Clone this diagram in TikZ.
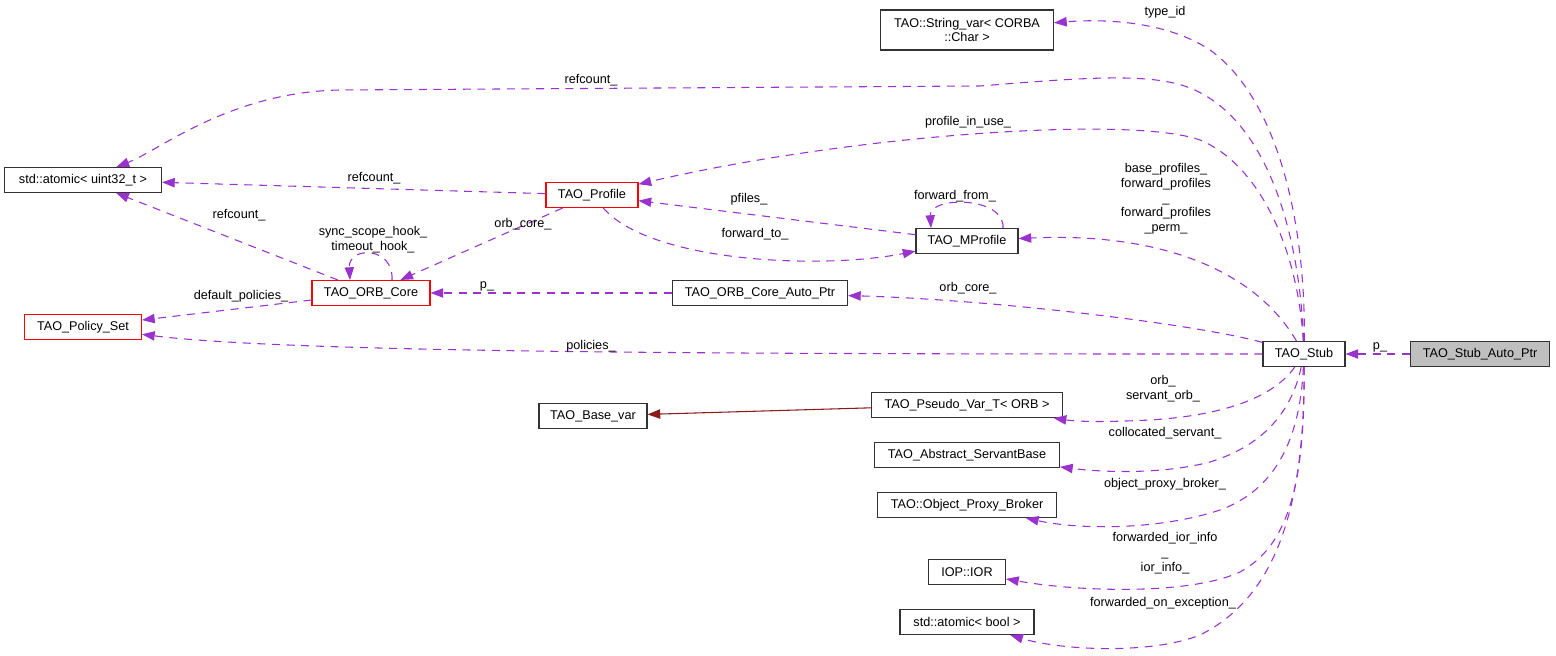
\documentclass[tikz,border=0pt]{standalone}
\usepackage{fontspec}
\setmainfont{Liberation Sans}
\usetikzlibrary{arrows.meta}

\definecolor{edgepurple}{HTML}{9A32CD}
\definecolor{inhred}{HTML}{8B1A1A}
\definecolor{nodegray}{HTML}{BFBFBF}

\begin{document}
\begin{tikzpicture}[x=0.75pt,y=-0.75pt,
    font=\fontsize{9.5}{11}\selectfont,
    cls/.style={draw=black!80,fill=white,line width=0.8pt,minimum height=18.75pt,inner sep=1pt},
    trunc/.style={cls,draw=red},
    focus/.style={cls,fill=nodegray},
    usage/.style={edgepurple,line width=0.8pt,dash pattern=on 6pt off 5pt,
      -{Triangle[length=9.5pt,width=7pt]}},
    inherit/.style={inhred,line width=0.8pt,-{Triangle[length=9.5pt,width=7pt]}},
    lbl/.style={inner sep=0pt,align=center}]
      \fill[white] (0,0) rectangle (1556,654);

      % classes
      \node[focus,minimum width=104.25pt] (stubptr) at (1480,354) {TAO\_Stub\_Auto\_Ptr};
      \node[cls,minimum width=61.5pt] (stub) at (1304,354) {TAO\_Stub};
      \node[cls,minimum width=129.75pt,minimum height=30pt,align=center] (stringvar) at (967,30) {TAO::String\_var< CORBA\\::Char >};
      \node[cls,minimum width=117.75pt] (atomicu) at (83,180) {std::atomic< uint32\_t >};
      \node[trunc,minimum width=87.75pt] (policyset) at (83,327) {TAO\_Policy\_Set};
      \node[trunc,minimum width=88.5pt] (orbcore) at (371,293) {TAO\_ORB\_Core};
      \node[trunc,minimum width=69pt] (profile) at (592,195) {TAO\_Profile};
      \node[cls,minimum width=76.5pt] (mprofile) at (967,241) {TAO\_MProfile};
      \node[cls,minimum width=131.25pt] (coreptr) at (760,293) {TAO\_ORB\_Core\_Auto\_Ptr};
      \node[cls,minimum width=81pt] (basevar) at (593,416) {TAO\_Base\_var};
      \node[cls,minimum width=143.25pt] (pseudovar) at (967,405) {TAO\_Pseudo\_Var\_T< ORB >};
      \node[cls,minimum width=138.75pt] (servantbase) at (967,455) {TAO\_Abstract\_ServantBase};
      \node[cls,minimum width=134.25pt] (broker) at (967,505) {TAO::Object\_Proxy\_Broker};
      \node[cls,minimum width=57.75pt] (ior) at (967,572) {IOP::IOR};
      \node[cls,minimum width=100.5pt] (atomicb) at (967,622) {std::atomic< bool >};

      % members of TAO_Stub
      \draw[usage] (stubptr) -- (stub);
      \draw[usage] (stub) .. controls (1306,230) and (1280,100) .. (1210,50)
        .. controls (1165,20) and (1100,19) .. (stringvar);
      \draw[usage] (stub) .. controls (1300,240) and (1270,120) .. (1190,88)
        .. controls (1150,72) and (1080,78) .. (980,86) -- (340,90)
        .. controls (230,92) and (160,150) .. (atomicu);
      \draw[usage] (stub) .. controls (1298,250) and (1260,165) .. (1200,140)
        .. controls (1130,115) and (850,135) .. (profile);
      \draw[usage] (stub) .. controls (1255,270) and (1160,232) .. (mprofile);
      \draw[usage] (stub) .. controls (1200,325) and (1000,300) .. (coreptr);
      \draw[usage] (stub) .. controls (800,354) and (300,354) .. (policyset);
      \draw[usage] (stub) .. controls (1275,395) and (1230,415) .. (1150,420)
        .. controls (1110,422) and (1080,422) .. (pseudovar);
      \draw[usage] (stub) .. controls (1292,410) and (1265,445) .. (1210,462)
        .. controls (1160,475) and (1100,472) .. (servantbase);
      \draw[usage] (stub) .. controls (1300,440) and (1275,490) .. (1220,510)
        .. controls (1160,530) and (1080,530) .. (broker);
      \draw[usage] (stub) .. controls (1305,480) and (1290,545) .. (1240,572)
        .. controls (1190,595) and (1080,592) .. (ior);
      \draw[usage] (stub) .. controls (1305,520) and (1270,600) .. (1200,635)
        .. controls (1150,655) and (1060,650) .. (atomicb);

      % the rest
      \draw[usage] (profile) -- (atomicu);
      \draw[usage] (orbcore) -- (atomicu);
      \draw[usage] (orbcore) -- (policyset);
      \draw[usage] ([xshift=15.75pt]orbcore.north) .. controls +(2,-34) and +(-2,-34) .. ([xshift=-15.75pt]orbcore.north);
      \draw[usage] (profile) -- (orbcore);
      \draw[usage] (coreptr) -- (orbcore);
      \draw[usage] (mprofile) -- (profile);
      \draw[usage] (profile) .. controls (650,262) and (820,270) .. (mprofile);
      \draw[usage] ([xshift=27pt]mprofile.north) .. controls +(2,-32) and +(-2,-32) .. ([xshift=-27pt]mprofile.north);
      \draw[inherit] (pseudovar) -- (basevar);

      % labels
      \node[lbl] (l-p) at (1380,347) {p\_};
      \node[lbl] (l-typeid) at (1165,12) {type\_id};
      \node[lbl] (l-refcount) at (591,80) {refcount\_};
      \node[lbl] (l-inuse) at (968,122) {profile\_in\_use\_};
      \node[lbl] (l-profiles) at (1166,199) {base\_profiles\_\\forward\_profiles\\\_\\forward\_profiles\\\_perm\_};
      \node[lbl] (l-orbcore) at (968,288) {orb\_core\_};
      \node[lbl] (l-policies) at (591,346) {policies\_};
      \node[lbl] (l-orb) at (1163,389) {orb\_\\servant\_orb\_};
      \node[lbl] (l-servant) at (1165,433) {collocated\_servant\_};
      \node[lbl] (l-broker) at (1165,484) {object\_proxy\_broker\_};
      \node[lbl] (l-ior) at (1165,553) {forwarded\_ior\_info\\\_\\ior\_info\_};
      \node[lbl] (l-except) at (1163,603) {forwarded\_on\_exception\_};
      \node[lbl] (l-refprof) at (374,178) {refcount\_};
      \node[lbl] (l-refcore) at (239,215) {refcount\_};
      \node[lbl] (l-hooks) at (373,240) {sync\_scope\_hook\_\\timeout\_hook\_};
      \node[lbl] (l-coreprof) at (523,224) {orb\_core\_};
      \node[lbl] (l-pfiles) at (749,199) {pfiles\_};
      \node[lbl] (l-fwdto) at (755,234) {forward\_to\_};
      \node[lbl] (l-fwdfrom) at (955,196) {forward\_from\_};
      \node[lbl] (l-defpol) at (241,296) {default\_policies\_};
      \node[lbl] (l-pcore) at (487,286) {p\_};
\end{tikzpicture}
\end{document}
